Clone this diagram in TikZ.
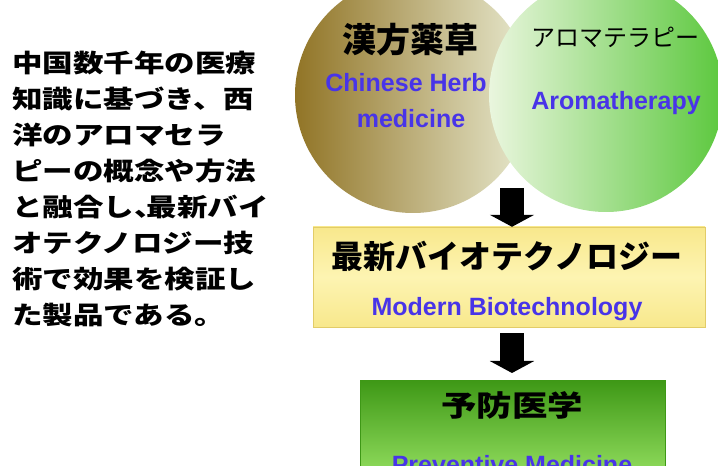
\documentclass[tikz,border=0pt]{standalone}
\usepackage{fontspec}
\usepackage{tikz}
\usepackage{xcolor}
\usetikzlibrary{arrows.meta,positioning}
\newfontfamily\jp{Noto Sans CJK JP}
\newfontfamily\jpwide{Noto Sans CJK JP}[FakeStretch=1.22]
\newfontfamily\en{Liberation Sans}
\definecolor{herbdark}{RGB}{145,116,38}
\definecolor{herblight}{RGB}{232,234,208}
\definecolor{aromalight}{RGB}{234,246,222}
\definecolor{aromadark}{RGB}{92,200,62}
\definecolor{biofill}{RGB}{248,232,140}
\definecolor{biomid}{RGB}{253,244,178}
\definecolor{bioedge}{RGB}{226,204,104}
\definecolor{prevtop}{RGB}{62,152,22}
\definecolor{prevbottom}{RGB}{176,246,120}
\definecolor{engblue}{RGB}{72,52,232}
\newcommand{\halfcomma}{\makebox[0.5em][l]{、}}
\tikzset{>=latex}

\begin{document}
\begin{tikzpicture}[x=1pt, y=1pt,
    jtext/.style={inner sep=0pt, font=\jp\bfseries},
    etext/.style={inner sep=0pt, anchor=base, text=engblue,
      font=\en\bfseries\fontsize{25}{28}\selectfont},
    blockarrow/.style={line width=24pt, -{Triangle[width=44pt,length=12pt]}}]
  \useasboundingbox (0,0) rectangle (718,466);
  \clip (0,0) rectangle (718,466);
  \fill[white] (0,0) rectangle (718,466);

  % explanation on the left
  \node[inner sep=0pt, anchor=north west, align=left,
    font=\jpwide\bfseries\fontsize{25}{36}\selectfont] (intro) at (12,415)
    {中国数千年の医療\\知識に基づき、西\\洋のアロマセラ\\ピーの概念や方法\\と融合し\halfcomma 最新バイ\\オテクノロジー技\\術で効果を検証し\\た製品である。};

  % the two sources
  \node[circle, minimum size=236pt, left color=herbdark, right color=herblight] (herb) at (413,371) {};
  \node[circle, minimum size=234pt, left color=aromalight, right color=aromadark] (aroma) at (606,371) {};
  \node[jtext, font=\jp\bfseries\fontsize{34}{36}\selectfont] (herbjp) at (410,426) {漢方薬草};
  \node[etext] (herben) at (406,374) {Chinese Herb};
  \node[etext] (herben2) at (411,338) {medicine};
  \node[jtext, font=\jp\fontsize{24}{26}\selectfont] (aromajp) at (615,429) {アロマテラピー};
  \node[etext] (aromaen) at (616,356) {Aromatherapy};
  \coordinate (merge) at (512,278);

  % biotechnology
  \node[minimum width=392pt, minimum height=100pt, draw=bioedge,
    top color=biofill, bottom color=biofill, middle color=biomid] (bio) at (509,189) {};
  \node[jtext, font=\jp\bfseries\fontsize{32}{34}\selectfont] (biojp) at (507,210) {最新バイオテクノロジー};
  \node[etext] (bioen) at (507,150) {Modern Biotechnology};

  % preventive medicine
  \node[minimum width=305pt, minimum height=130pt, draw=prevtop,
    top color=prevtop, bottom color=prevbottom, anchor=north] (prev) at (512.5,86) {};
  \node[jtext, font=\jpwide\bfseries\fontsize{29}{31}\selectfont] (prevjp) at (512,61) {予防医学};
  \node[etext] (preven) at (512,-8) {Preventive Medicine};

  \draw[blockarrow] (merge) -- (merge |- bio.north);
  \draw[blockarrow, shorten <=6pt, shorten >=7pt] (bio.south -| merge) -- (prev.north -| merge);
\end{tikzpicture}
\end{document}
